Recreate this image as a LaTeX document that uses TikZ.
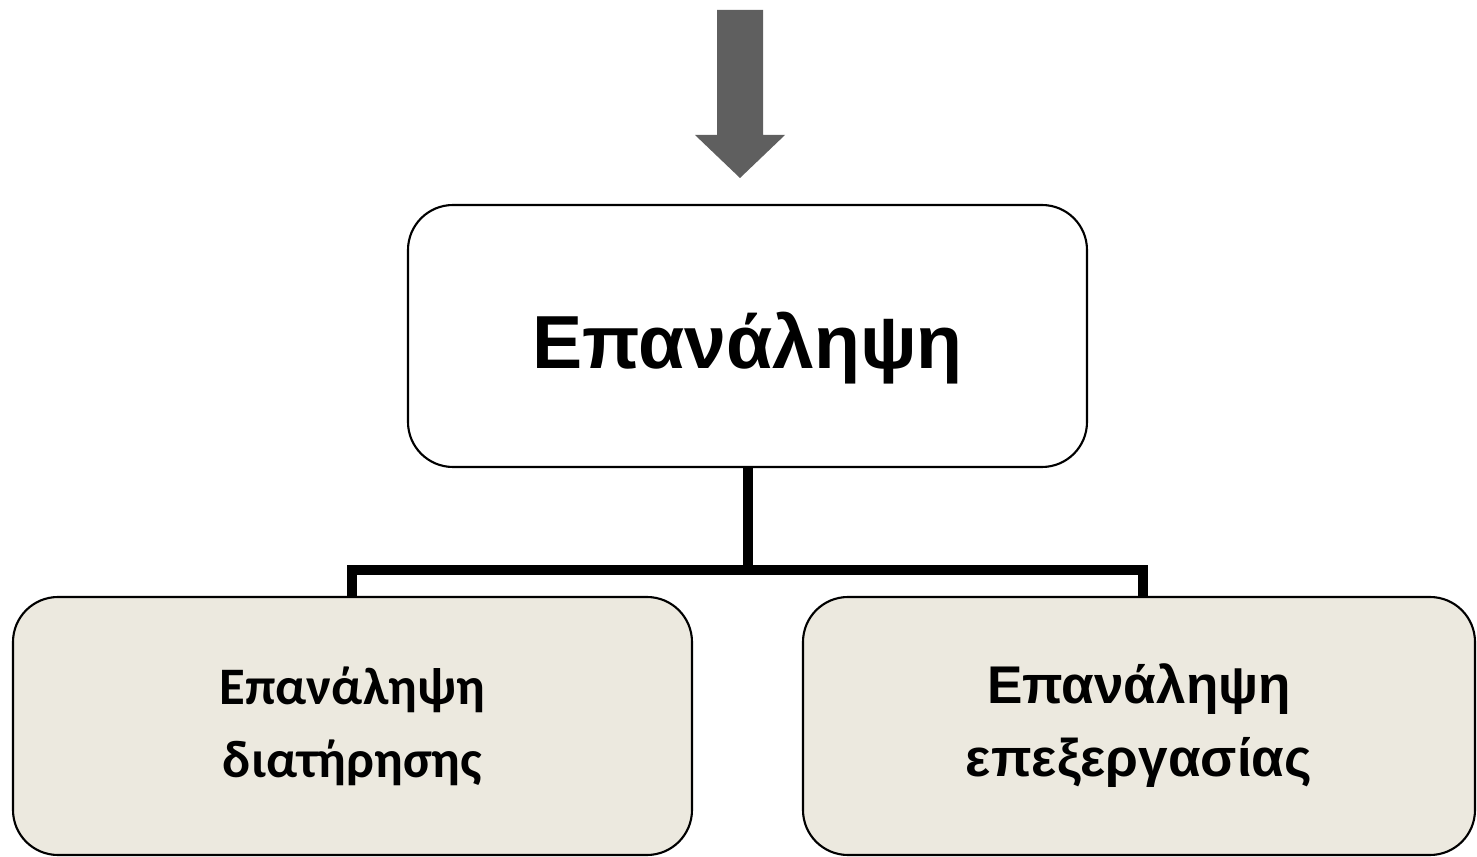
\documentclass[tikz,border=0pt]{standalone}
\usepackage{fontspec}
\setmainfont{Liberation Sans}
\newfontfamily\calfont{Carlito}
\usepackage{xcolor}
\usetikzlibrary{positioning}
\definecolor{arrowgray}{HTML}{5F5F5F}
\definecolor{boxbeige}{HTML}{ECE9DF}
\tikzset{roundbox/.style={draw=black, line width=0.6pt, rounded corners=0.45cm, align=center}}
\tikzset{branch/.style={line width=0.1cm, line join=miter}}

\begin{document}
\begin{tikzpicture}

    \useasboundingbox (0,0) rectangle (14.77,8.57);

    \coordinate (J) at (7.475, 2.87);

    %boxes
    \node[roundbox, fill=white, minimum width=6.79cm, minimum height=2.62cm,
        font=\fontsize{21.4}{26}\selectfont\bfseries] (top) at (7.475, 5.21)
        {\raisebox{-0.12cm}[\height][\depth]{Επανάληψη}};
    \node[roundbox, fill=boxbeige, minimum width=6.79cm, minimum height=2.58cm,
        font=\fontsize{15}{20.8}\selectfont\calfont\bfseries] (left) at (3.525, 1.31)
        {Επανάληψη\\ διατήρησης};
    \node[roundbox, fill=boxbeige, minimum width=6.72cm, minimum height=2.58cm,
        font=\fontsize{15.1}{20.8}\selectfont\bfseries] (right) at (11.39, 1.31)
        {Επανάληψη\\ επεξεργασίας};

    %block arrow
    \fill[arrowgray] (7.17, 8.47) -- (7.63, 8.47) -- (7.63, 7.22) -- (7.85, 7.22)
        -- (7.40, 6.79) -- (6.95, 7.22) -- (7.17, 7.22) -- cycle;

    %tree lines
    \draw[branch] (top.south) -- (top.south |- J);
    \draw[branch] ([xshift=-0.005cm]left.north) -- ([xshift=-0.005cm]left.north |- J)
        -- ([xshift=0.04cm]right.north |- J) -- ([xshift=0.04cm]right.north);

\end{tikzpicture}
\end{document}
